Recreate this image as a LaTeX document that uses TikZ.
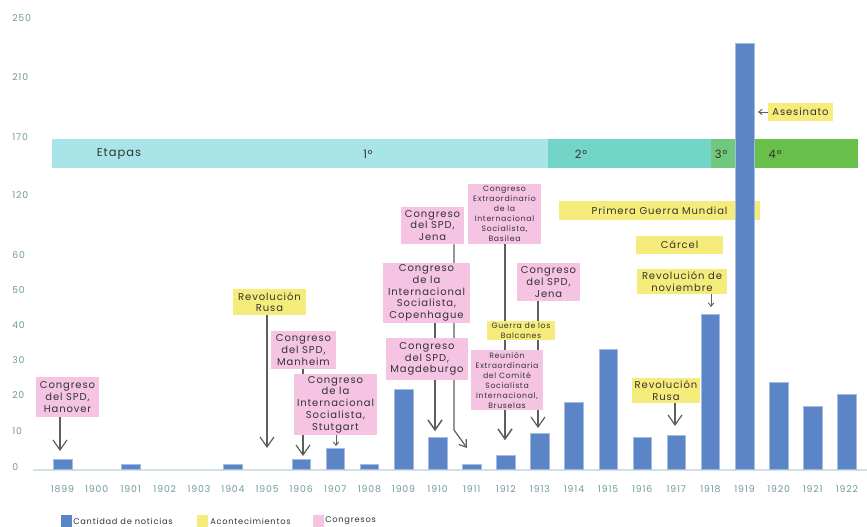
\documentclass[tikz,border=0pt]{standalone}
\usepackage{fontspec}
\setmainfont{Poppins}[LetterSpace=9]
\usetikzlibrary{arrows.meta}
\definecolor{barblue}{HTML}{5B85C6}
\definecolor{pinkc}{HTML}{F4C4E2}
\definecolor{yellowc}{HTML}{F6EC7B}
\definecolor{bandA}{HTML}{A8E4E8}
\definecolor{bandB}{HTML}{72D5C8}
\definecolor{bandC}{HTML}{70C87C}
\definecolor{bandD}{HTML}{68C04A}
\definecolor{axc}{HTML}{6E9A9E}
\definecolor{axl}{HTML}{D0E4E8}
\definecolor{txtc}{HTML}{333333}
\definecolor{arrc}{HTML}{5E5E5E}
\pgfdeclarelayer{back}
\pgfsetlayers{back,main}
\newcommand\bx[7]{\node[#2, minimum width={(#5-#3)*0.75pt}, minimum height={(#6-#4)*0.75pt}] (#1) at ({(#3+#5)/2},{(#4+#6)/2}) {#7};}
\begin{document}
\begin{tikzpicture}[x=0.75pt,y=-0.75pt,
  box/.style={align=center, inner sep=0pt, text=txtc, font=\fontsize{7.5}{8.8}\selectfont},
  cong/.style={box, fill=pinkc},
  acon/.style={box, fill=yellowc},
  smallt/.style={font=\fontsize{5.8}{7.5}\selectfont},
  bandseg/.style={inner sep=0pt},
  bandtxt/.style={text=txtc, font=\fontsize{8.6}{10}\selectfont, inner sep=0pt},
  bar/.style={fill=barblue, draw=barblue!55!white, line width=0.4pt, minimum width=14pt, inner sep=0pt},
  ax/.style={text=axc, font=\fontsize{7}{8}\selectfont, inner sep=0pt},
  legt/.style={text=txtc, font=\fontsize{6.2}{7}\selectfont, inner sep=0pt, anchor=west},
  legsq/.style={minimum width=8.25pt, minimum height=9pt, inner sep=0pt},
  arr/.style={draw=arrc, line width=0.9pt, -{Straight Barb[length=7.5pt,width=10.5pt]}},
  arrm/.style={draw=arrc, line width=0.9pt, -{Straight Barb[length=5pt,width=7pt]}},
  arrs/.style={draw=arrc, line width=0.7pt, -{Straight Barb[length=2.5pt,width=4pt]}}]
\useasboundingbox (0,0) rectangle (867,527);
\begin{pgfonlayer}{back}
\fill[white] (0,0) rectangle (867,527);
\end{pgfonlayer}
% y axis labels
\foreach \v/\yy in {250/18,210/77,170/137,120/195,60/255,50/290,40/325,30/360,20/395,10/431,0/467}
  \node[ax,anchor=west] (y\v) at (12,\yy) {\v};
% axis line
\coordinate (a0) at (33,470);
\coordinate (a1) at (867,470);
\draw[axl, line width=1pt] (a0) -- (a1);
% stage band
\bx{stA}{bandseg,fill=bandA}{52}{139}{548}{168}{}
\bx{stB}{bandseg,fill=bandB}{548}{139}{711}{168}{}
\bx{stC}{bandseg,fill=bandC}{711}{139}{737}{168}{}
\bx{stD}{bandseg,fill=bandD}{737}{139}{858}{168}{}
\node[bandtxt] (etapas) at (119,154) {Etapas};
\node[bandtxt] (e1) at (368,154) {1°};
\node[bandtxt] (e2) at (581,154) {2°};
\node[bandtxt] (e3) at (721,154) {3°};
\node[bandtxt] (e4) at (775,154) {4°};
% world war box (behind 1919 bar)
\bx{primera}{acon}{559}{201}{760}{220}{Primera Guerra Mundial}
% bars
\foreach \i/\yr/\h in {0/1899/10,2/1901/5,5/1904/5,7/1906/10,8/1907/21,9/1908/5,10/1909/80,11/1910/32,12/1911/5,13/1912/14,14/1913/36,15/1914/67,16/1915/120,17/1916/32,18/1917/34,19/1918/155,20/1919/426,21/1920/87,22/1921/63,23/1922/75}
  \node[bar, minimum height=\h*0.75pt, anchor=south] (b\yr) at ({62.5+34.1*\i},470) {};
% year labels
\foreach \i in {0,...,23}{
  \pgfmathtruncatemacro\yr{1899+\i}
  \node[ax] (l\yr) at ({62.5+34.1*\i},489) {\yr};
}
% annotation boxes
\bx{han}{cong}{36}{377}{99}{417}{Congreso\\del SPD,\\Hanover}
\bx{rusa1}{acon}{233}{289}{306}{315}{Revolución\\Rusa}
\bx{manh}{cong}{271}{331}{336}{369}{Congreso\\del SPD,\\Manheim}
\bx{stut}{cong}{294}{374}{377}{435}{Congreso\\de la\\Internacional\\Socialista,\\Stutgart}
\bx{magd}{cong}{386}{338}{468}{380}{Congreso\\del SPD,\\Magdeburgo}
\bx{cope}{cong}{383}{263}{470}{323}{Congreso\\de la\\Internacional\\Socialista,\\Copenhague}
\bx{jena1}{cong}{401}{207}{464}{244}{Congreso\\del SPD,\\Jena}
\bx{basi}{cong,smallt}{468}{184}{541}{244}{Congreso\\Extraordinario\\de la\\Internacional\\Socialista,\\Basilea}
\bx{guerra}{acon,smallt}{487}{321}{555}{340}{Guerra de los\\Balcanes}
\bx{brus}{cong,smallt}{471}{350}{543}{410}{Reunión\\Extraordinaria\\del Comité\\Socialista\\Internacional,\\Bruselas}
\bx{jena2}{cong}{517}{263}{580}{301}{Congreso\\del SPD,\\Jena}
\bx{rusa2}{acon}{632}{378}{700}{403}{Revolución\\Rusa}
\bx{carcel}{acon}{636}{236}{723}{254}{Cárcel}
\bx{novi}{acon}{637}{269}{727}{294}{Revolución de\\noviembre}
\bx{ases}{acon}{768}{103}{833}{121}{Asesinato}
% arrow targets
\coordinate (t1899) at (60,451);
\coordinate (t1905) at (267,448);
\coordinate (t1906) at (303,456);
\coordinate (t1907) at (336,446);
\coordinate (t1910) at (435,431);
\coordinate (k1911) at (454,430);
\coordinate (t1911) at (467,448);
\coordinate (t1912) at (505,440);
\coordinate (t1913) at (538,428);
\coordinate (t1917) at (675,426);
\coordinate (t1918) at (711,307);
\coordinate (t1919) at (758,112);
\begin{pgfonlayer}{back}
\draw[arr] (han.south -| t1899) -- (t1899);
\draw[arr] (rusa1.south -| t1905) -- (t1905);
\draw[arr] (manh.south -| t1906) -- (t1906);
\draw[arrs] (stut.south -| t1907) -- (t1907);
\draw[arr] (cope.south -| t1910) -- (t1910);
\draw[arr] (magd.south -| t1910) -- (t1910);
\draw[arrm] (jena1.south -| k1911) -- (k1911) -- (t1911);
\draw[arr] (basi.south -| t1912) -- (t1912);
\draw[arr] (brus.south -| t1912) -- (t1912);
\draw[arr] (jena2.south -| t1913) -- (t1913);
\draw[arr] (rusa2.south -| t1917) -- (t1917);
\draw[arrs] (novi.south -| t1918) -- (t1918);
\draw[arrs] (ases.west) -- (t1919);
\end{pgfonlayer}
% legend
\node[legsq, fill=barblue] (lg1) at (66.5,521) {};
\node[legt] (lt1) at (73,521) {Cantidad de noticias};
\node[legsq, fill=yellowc] (lg2) at (202.5,521) {};
\node[legt] (lt2) at (210,521) {Acontecimientos};
\node[legsq, fill=pinkc] (lg3) at (318.5,521) {};
\node[legt] (lt3) at (325,521) {Congresos};
\end{tikzpicture}
\end{document}
